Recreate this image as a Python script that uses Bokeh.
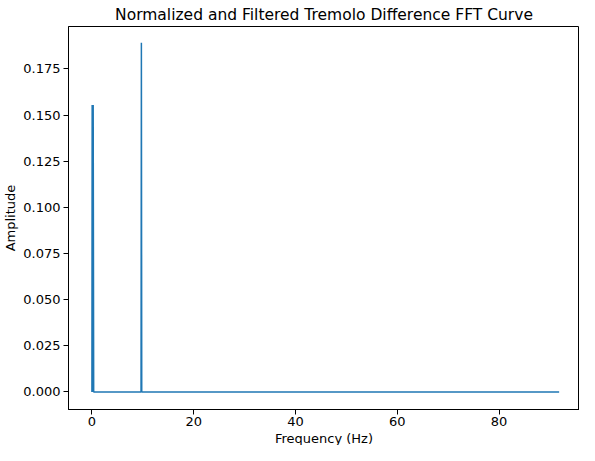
from bokeh.plotting import figure
from bokeh.models import FixedTicker, NumeralTickFormatter, Range1d, Title
from bokeh.embed import file_html
from bokeh.resources import INLINE

# Data
freq_hz = [0.0, 0.05, 0.15, 0.25, 0.35, 9.65, 9.72, 9.79, 91.8]
amplitude = [0.0, 0.1555, 0.0, 0.1555, 0.0, 0.0, 0.1892, 0.0, 0.0]
x_ticks = [0, 20, 40, 60, 80]
y_ticks = [0.0, 0.025, 0.05, 0.075, 0.1, 0.125, 0.15, 0.175]

FONT = "DejaVu Sans"

p = figure(width=579, height=445, output_backend="svg", toolbar_location=None,
           title="Normalized and Filtered Tremolo Difference FFT Curve",
           x_range=Range1d(-4.6, 95.8), y_range=Range1d(-0.0095, 0.198),
           min_border_left=5, min_border_right=0, min_border_top=5, min_border_bottom=0)

p.line(freq_hz, amplitude, line_color="#1f77b4", line_width=1.5)

p.title.align = "center"
p.title.text_font = FONT
p.title.text_font_size = "15.5px"
p.title.text_font_style = "normal"
p.title.text_color = "#000000"
p.title.standoff = 6

p.xgrid.visible = False
p.ygrid.visible = False
p.outline_line_color = "#000000"
p.outline_line_width = 1
p.outline_line_alpha = 1
p.background_fill_color = "white"
p.border_fill_color = "white"

for ax in (p.xaxis[0], p.yaxis[0]):
    ax.axis_line_color = "#000000"
    ax.major_tick_line_color = "#000000"
    ax.major_tick_out = 5
    ax.major_tick_in = 0
    ax.minor_tick_line_color = None
    ax.major_label_text_font = FONT
    ax.major_label_text_font_size = "13px"
    ax.major_label_text_color = "#000000"
    ax.axis_label_text_font = FONT
    ax.axis_label_text_font_size = "13px"
    ax.axis_label_text_font_style = "normal"
    ax.axis_label_text_color = "#000000"

p.xaxis.ticker = FixedTicker(ticks=x_ticks)
p.yaxis.ticker = FixedTicker(ticks=y_ticks)
p.yaxis.formatter = NumeralTickFormatter(format="0.000")
p.yaxis.axis_label = "Amplitude"
p.xaxis.major_label_standoff = 2
p.yaxis.major_label_standoff = 3
p.yaxis.axis_label_standoff = 2

xtitle = Title(text="Frequency (Hz)", align="center", text_font=FONT,
               text_font_size="13px", text_font_style="normal",
               text_color="#000000", standoff=0, offset=0)
p.add_layout(xtitle, "below")

open("out.html", "w").write(file_html(p, INLINE))
